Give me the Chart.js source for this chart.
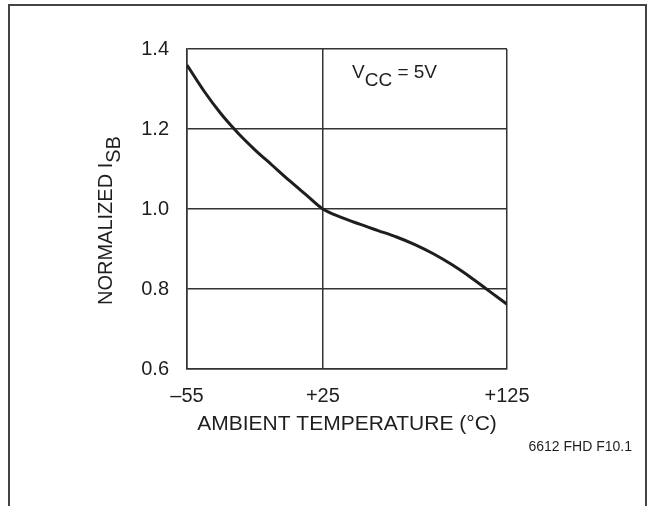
<!DOCTYPE html>
<html lang="en">

    <head>
        <meta charset="UTF-8">
        <title>Normalized ISB vs Temperature</title>
        <script src="https://cdn.jsdelivr.net/npm/chart.js"></script>
        <style>
            body {
                margin: 0;
                background: #fff;
            }

            .chart-container {
                position: relative;
                width: 654px;
                height: 506px;
            }
        </style>
    </head>

    <body>
        <div class="chart-container">
            <canvas id="isbChart"></canvas>
        </div>
        <script>
// Data
const temps = [-55, -45, -35, -25, -15, -5, 5, 15, 25, 35, 45, 55, 65, 75, 85, 95, 105, 115, 125];
const isbNorm = [1.36, 1.295, 1.238, 1.19, 1.148, 1.11, 1.072, 1.036, 1.0, 0.979, 0.962, 0.946, 0.93, 0.911, 0.888, 0.861, 0.83, 0.796, 0.762];

const xTicks = [-55, 25, 125];
const xTickLabels = ['\u201355', '+25', '+125'];
const yTicks = [0.6, 0.8, 1.0, 1.2, 1.4];

// the printed axis is not linear: -55..+25 takes less room than +25..+125
const xBreak = 25;
const breakFrac = 0.4245;

class PiecewiseScale extends Chart.LinearScale {
    getPixelForValue(value) {
        const lo = this.min, hi = this.max;
        const d = value <= xBreak
            ? (value - lo) / (xBreak - lo) * breakFrac
            : breakFrac + (value - xBreak) / (hi - xBreak) * (1 - breakFrac);
        return this.getPixelForDecimal(d);
    }
    getValueForPixel(pixel) {
        const d = this.getDecimalForPixel(pixel);
        return d <= breakFrac
            ? this.min + d / breakFrac * (xBreak - this.min)
            : xBreak + (d - breakFrac) / (1 - breakFrac) * (this.max - xBreak);
    }
}
PiecewiseScale.id = 'piecewise';
PiecewiseScale.defaults = Chart.LinearScale.defaults;
Chart.register(PiecewiseScale);

const FONT = '"Liberation Sans", Arial, sans-serif';
const INK = '#1e1e1e';

const ctx = document.getElementById('isbChart').getContext('2d');

new Chart(ctx, {
    type: 'line',
    data: {
        datasets: [{
            data: temps.map((t, i) => ({ x: t, y: isbNorm[i] })),
            borderColor: INK,
            borderWidth: 3,
            pointRadius: 0,
            cubicInterpolationMode: 'monotone',
            fill: false
        }]
    },
    options: {
        responsive: true,
        maintainAspectRatio: false,
        animation: false,
        events: [],
        plugins: {
            legend: { display: false },
            tooltip: { enabled: false }
        },
        layout: {
            padding: { left: 0, right: 147, top: 49, bottom: 67 }
        },
        scales: {
            x: {
                type: 'piecewise',
                min: -55,
                max: 125,
                afterBuildTicks: (scale) => {
                    scale.ticks = xTicks.map(v => ({ value: v }));
                },
                afterFit: (scale) => { scale.height = 70; },
                ticks: {
                    autoSkip: false,
                    maxRotation: 0,
                    padding: 15,
                    color: INK,
                    font: { family: FONT, size: 20 },
                    callback: (v) => xTickLabels[xTicks.indexOf(v)]
                },
                grid: { color: '#333', lineWidth: 1.5, drawTicks: false },
                border: { color: '#333', width: 1.5 },
                title: {
                    display: true,
                    text: 'AMBIENT TEMPERATURE (\u00B0C)',
                    color: INK,
                    font: { family: FONT, size: 21 },
                    padding: { top: 0, bottom: 2 }
                }
            },
            y: {
                min: 0.6,
                max: 1.4,
                afterBuildTicks: (scale) => {
                    scale.ticks = yTicks.map(v => ({ value: v }));
                },
                afterFit: (scale) => { scale.width = 187; },
                ticks: {
                    padding: 18,
                    color: INK,
                    font: { family: FONT, size: 20 },
                    callback: (v) => v.toFixed(1)
                },
                grid: { color: '#333', lineWidth: 1.5, drawTicks: false },
                border: { color: '#333', width: 1.5 }
            }
        }
    },
    plugins: [{
        id: 'extras',
        beforeDraw: (chart) => {
            const c = chart.ctx;
            // outer figure frame
            c.save();
            c.strokeStyle = '#444';
            c.lineWidth = 2;
            c.strokeRect(9, 5, 637, 540);
            c.restore();
        },
        afterDraw: (chart) => {
            const c = chart.ctx;
            c.save();
            c.fillStyle = INK;
            c.textBaseline = 'alphabetic';
            c.textAlign = 'left';

            // y axis title with subscript
            c.save();
            c.translate(112, 305);
            c.rotate(-Math.PI / 2);
            c.font = '20px ' + FONT;
            const main = 'NORMALIZED I';
            c.fillText(main, 0, 0);
            const w = c.measureText(main).width;
            c.fillText('SB', w, 8);
            c.restore();

            // supply note inside the plot
            c.font = '19px ' + FONT;
            c.fillText('V', 352, 78);
            let x = 352 + c.measureText('V').width;
            c.fillText('CC', x, 86);
            x += c.measureText('CC').width;
            c.fillText(' = 5V', x, 78);

            // figure id
            c.font = '14px ' + FONT;
            c.textAlign = 'right';
            c.fillText('6612 FHD F10.1', 632, 451);
            c.restore();
        }
    }]
});
        </script>
    </body>

</html>
